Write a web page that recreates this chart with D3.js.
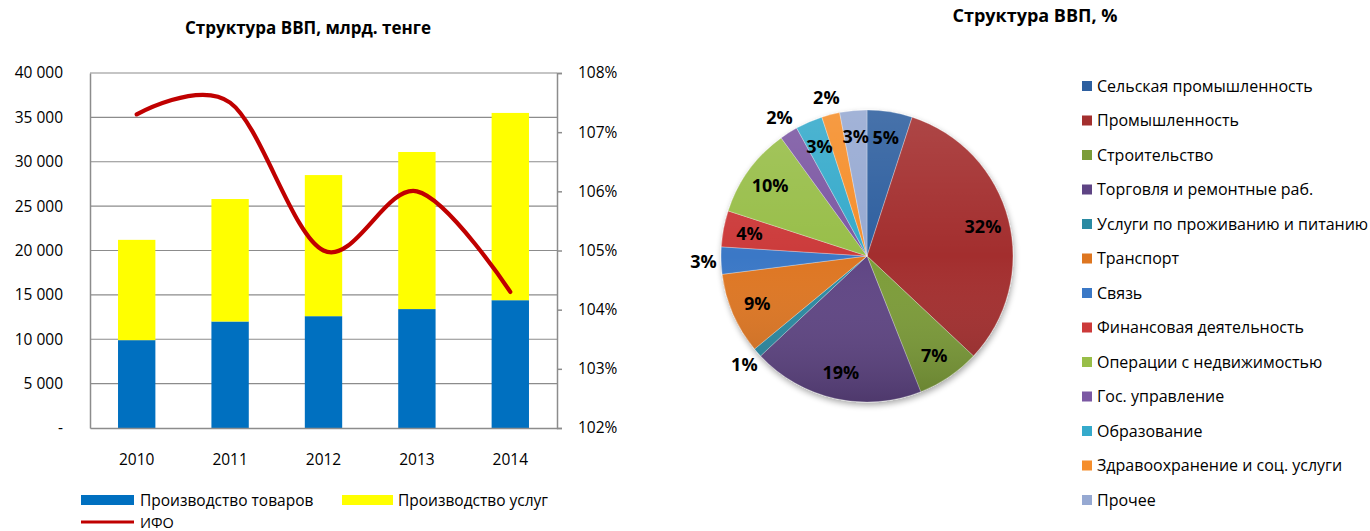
<!DOCTYPE html>
<html><head><meta charset="utf-8">
<script src="https://cdn.jsdelivr.net/npm/d3@7"></script>
<style>
body{margin:0;background:#fff;}
svg{display:block;font-family:"Open Sans",sans-serif;}
</style></head>
<body>
<svg id="c" width="1370" height="531"></svg>
<script>
// ---------- DATA ----------
const years = ["2010","2011","2012","2013","2014"];
const goods = [9900, 12000, 12600, 13400, 14400];
const services = [11300, 13800, 15900, 17700, 21100];
const ifo = [107.3, 107.5, 105.0, 106.0, 104.3];
const leftTicks = [0,5000,10000,15000,20000,25000,30000,35000,40000];
const rightTicks = [102,103,104,105,106,107,108];

const sectors = ["Сельская промышленность","Промышленность","Строительство","Торговля и ремонтные раб.",
 "Услуги по проживанию и питанию","Транспорт","Связь","Финансовая деятельность",
 "Операции с недвижимостью","Гос. управление","Образование","Здравоохранение и соц. услуги","Прочее"];
const shares = [5,32,7,19,1,9,3,4,10,2,3,2,3];
const sectorColors = ["#2D5F9F","#A32F2E","#7B9C38","#5E4484","#2A8AA2","#DE7620","#3A78C6","#CC3A3A",
 "#98BE48","#7B58A3","#35AACB","#F58E2C","#96A9D2"];
const outsideLabels = ["Услуги по проживанию и питанию","Связь","Гос. управление","Здравоохранение и соц. услуги"];

// ---------- LEFT CHART ----------
const svg = d3.select("#c");
const L = {x0:90, x1:557, y0:73, y1:428};
const x = d3.scaleBand().domain(years).range([L.x0, L.x1]).paddingInner(0.6).paddingOuter(0.3);
const y = d3.scaleLinear().domain([0,40000]).range([L.y1, L.y0]);
const y2 = d3.scaleLinear().domain([102,108]).range([L.y1, L.y0]);
const grid = "#8c8c8c";
const FS = 15.5;

svg.append("text").attr("x",308).attr("y",34).attr("text-anchor","middle")
  .attr("font-weight","bold").attr("font-size",17).text("Структура ВВП, млрд. тенге");

// gridlines
svg.append("g").selectAll("line").data(leftTicks.slice(1)).join("line")
  .attr("x1",L.x0).attr("x2",L.x1).attr("y1",d=>y(d)).attr("y2",d=>y(d))
  .attr("stroke",grid).attr("stroke-width",1.2);

// bars
const stack = years.map((yr,i)=>({yr, g:goods[i], s:services[i]}));
svg.append("g").selectAll("rect").data(stack).join("rect")
  .attr("x",d=>x(d.yr)).attr("width",x.bandwidth())
  .attr("y",d=>y(d.g)).attr("height",d=>y(0)-y(d.g)).attr("fill","#0070C0");
svg.append("g").selectAll("rect").data(stack).join("rect")
  .attr("x",d=>x(d.yr)).attr("width",x.bandwidth())
  .attr("y",d=>y(d.g+d.s)).attr("height",d=>y(d.g)-y(d.g+d.s)).attr("fill","#FFFF00");

// axes
const fmt = d => d===0 ? "-" : d3.format(",")(d).replace(/,/g," ");
const ax = svg.append("g").attr("transform",`translate(${L.x0},0)`)
  .call(d3.axisLeft(y).tickValues(leftTicks).tickFormat(fmt).tickSize(0).tickPadding(27));
ax.select(".domain").attr("stroke",grid).attr("stroke-width",1.5);
ax.selectAll("text").attr("font-size",FS).attr("fill","#000").attr("font-family","Open Sans, sans-serif");

const ar = svg.append("g").attr("transform",`translate(${L.x1},0)`)
  .call(d3.axisRight(y2).tickValues(rightTicks).tickFormat(d=>d+"%").tickSize(5).tickPadding(16));
ar.select(".domain").attr("stroke",grid).attr("stroke-width",1.5);
ar.selectAll("line").attr("stroke",grid).attr("stroke-width",1.5);
ar.selectAll("text").attr("font-size",FS).attr("fill","#000").attr("font-family","Open Sans, sans-serif");

const axb = svg.append("g").attr("transform",`translate(0,${L.y1})`)
  .call(d3.axisBottom(x).tickSize(0).tickPadding(26));
axb.select(".domain").attr("stroke",grid).attr("stroke-width",1.5);
axb.selectAll("text").attr("font-size",FS).attr("fill","#000").attr("font-family","Open Sans, sans-serif");

// line
const line = d3.line().x((d,i)=>x(years[i])+x.bandwidth()/2).y(d=>y2(d)).curve(d3.curveCardinal.tension(0));
svg.append("path").datum(ifo).attr("d",line).attr("fill","none")
  .attr("stroke","#C00000").attr("stroke-width",4.2).attr("stroke-linecap","round");

// legend
const lg = svg.append("g").attr("font-size",15.5);
lg.append("rect").attr("x",81).attr("y",495).attr("width",53).attr("height",10).attr("fill","#0070C0");
lg.append("text").attr("x",140).attr("y",506).text("Производство товаров");
lg.append("rect").attr("x",342).attr("y",495).attr("width",51).attr("height",10).attr("fill","#FFFF00");
lg.append("text").attr("x",398).attr("y",506).text("Производство услуг");
lg.append("line").attr("x1",81).attr("x2",134).attr("y1",522).attr("y2",522).attr("stroke","#C00000").attr("stroke-width",3);
lg.append("text").attr("x",140).attr("y",528).attr("font-size",14.5).text("ИФО");

// ---------- PIE ----------
svg.append("text").attr("x",1035).attr("y",22).attr("text-anchor","middle")
  .attr("font-weight","bold").attr("font-size",18).text("Структура ВВП, %");

const defs = svg.append("defs");
const gr = defs.append("linearGradient").attr("id","shade").attr("x1",0).attr("y1",0).attr("x2",0).attr("y2",1);
gr.append("stop").attr("offset","0%").attr("stop-color","#fff").attr("stop-opacity",0.12);
gr.append("stop").attr("offset","50%").attr("stop-color","#fff").attr("stop-opacity",0);
gr.append("stop").attr("offset","100%").attr("stop-color","#000").attr("stop-opacity",0.18);
const flt = defs.append("filter").attr("id","sh").attr("x","-20%").attr("y","-20%").attr("width","140%").attr("height","140%");
flt.append("feGaussianBlur").attr("in","SourceAlpha").attr("stdDeviation",3);
flt.append("feOffset").attr("dx",1).attr("dy",3).attr("result","b");
flt.append("feComponentTransfer").append("feFuncA").attr("type","linear").attr("slope",0.35);
const m = flt.append("feMerge"); m.append("feMergeNode"); m.append("feMergeNode").attr("in","SourceGraphic");

const cx=867, cy=256, R=146;
const pieData = d3.pie().sort(null).value(d=>d.v)(sectors.map((s,i)=>({s, v:shares[i], c:sectorColors[i]})));
const arc = d3.arc().innerRadius(0).outerRadius(R);
const pg = svg.append("g").attr("transform",`translate(${cx},${cy})`);
const slices = pg.append("g").attr("filter","url(#sh)");
slices.selectAll("path").data(pieData).join("path").attr("d",arc).attr("fill",d=>d.data.c)
  .attr("stroke","#fff").attr("stroke-width",0.3);
pg.append("circle").attr("r",R).attr("fill","url(#shade)");

const inArc = d3.arc().innerRadius(R*0.82).outerRadius(R*0.82);
const outArc = d3.arc().innerRadius(R*1.12).outerRadius(R*1.12);
pg.append("g").selectAll("text").data(pieData).join("text")
  .attr("transform",d=>`translate(${(outsideLabels.includes(d.data.s)?outArc:inArc).centroid(d)})`)
  .attr("text-anchor","middle").attr("dy","0.36em")
  .attr("font-weight","bold").attr("font-size",18).attr("fill","#000")
  .text(d=>d.data.v+"%");

// pie legend
const pl = svg.append("g").attr("font-size",16);
const ly = d3.scalePoint().domain(sectors).range([86,500]);
pl.selectAll("rect").data(sectors).join("rect")
  .attr("x",1082).attr("y",d=>ly(d)-5).attr("width",10).attr("height",10)
  .attr("fill",(d,i)=>sectorColors[i]);
pl.selectAll("text").data(sectors).join("text")
  .attr("x",1097).attr("y",d=>ly(d)).attr("dy","0.35em").text(d=>d);
</script>
</body></html>
